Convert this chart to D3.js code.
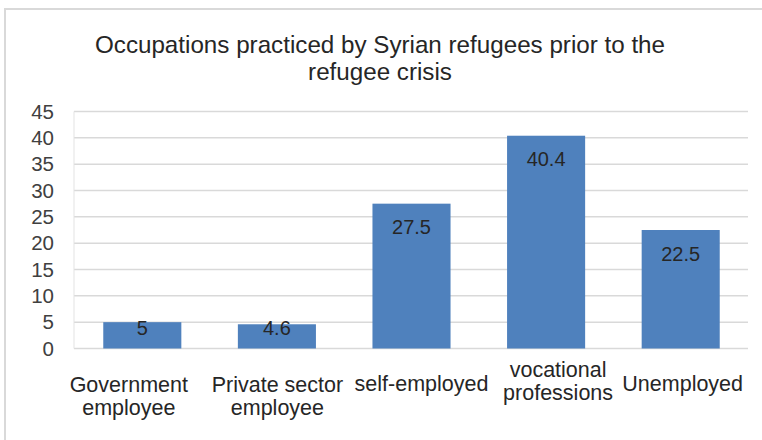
<!DOCTYPE html>
<html>
<head>
<meta charset="utf-8">
<script src="https://cdn.jsdelivr.net/npm/d3@7/dist/d3.min.js"></script>
<style>
  html, body { margin: 0; padding: 0; background: #fff; }
  svg { display: block; font-family: "Liberation Sans", Arial, sans-serif; }
</style>
</head>
<body>
<svg id="chart" width="762" height="440"></svg>
<script>
// ---- data ----
const categories = ["Government employee", "Private sector employee", "self-employed", "vocational professions", "Unemployed"];
const categoryLines = [["Government", "employee"], ["Private sector", "employee"], ["self-employed"], ["vocational", "professions"], ["Unemployed"]];
const values = [5, 4.6, 27.5, 40.4, 22.5];
const yTicks = [0, 5, 10, 15, 20, 25, 30, 35, 40, 45];
const titleLines = ["Occupations practiced by Syrian refugees prior to the", "refugee crisis"];

// ---- layout ----
const svg = d3.select("#chart");
const plot = { left: 75, right: 748, top: 111.5, bottom: 348.5 };
const labelShift = [[-13.5, 0], [0.5, 0], [10, -1], [12, -15], [2, -1]];

svg.append("rect")
  .attr("x", 5).attr("y", 9).attr("width", 800).attr("height", 500)
  .attr("fill", "none").attr("stroke", "#d9d9d9").attr("stroke-width", 2);

const x = d3.scaleBand().domain(categories).range([plot.left, plot.right]).paddingInner(0.42).paddingOuter(0.21);
const y = d3.scaleLinear().domain([0, 45]).range([plot.bottom, plot.top]);

// title
svg.append("text")
  .attr("x", 380).attr("y", 52.5)
  .attr("text-anchor", "middle")
  .attr("font-size", 24.2).attr("fill", "#262626")
  .selectAll("tspan").data(titleLines).join("tspan")
  .attr("x", 380).attr("dy", (d, i) => i === 0 ? 0 : 27)
  .text(d => d);

// gridlines
svg.append("g").selectAll("line").data(yTicks).join("line")
  .attr("x1", plot.left - 1).attr("x2", plot.right)
  .attr("y1", d => y(d)).attr("y2", d => y(d))
  .attr("stroke", "#d9d9d9").attr("stroke-width", 1.5);

svg.append("line")
  .attr("x1", plot.left - 1).attr("x2", plot.left - 1)
  .attr("y1", plot.top).attr("y2", plot.bottom)
  .attr("stroke", "#e3e3e3").attr("stroke-width", 1);

// y axis labels
const yAxis = d3.axisLeft(y).tickValues(yTicks).tickSize(0).tickPadding(21);
const gy = svg.append("g").attr("transform", `translate(${plot.left},0)`).call(yAxis);
gy.select(".domain").remove();
gy.selectAll("text").attr("font-size", 20.5).attr("fill", "#404040")
  .attr("font-family", "Liberation Sans, Arial, sans-serif");

// bars
svg.append("g").selectAll("rect").data(values).join("rect")
  .attr("x", (d, i) => x(categories[i]))
  .attr("width", x.bandwidth())
  .attr("y", d => y(d))
  .attr("height", d => y(0) - y(d))
  .attr("fill", "#4f81bd");

// data labels
svg.append("g").selectAll("text").data(values).join("text")
  .attr("x", (d, i) => x(categories[i]) + x.bandwidth() / 2)
  .attr("y", d => Math.min(y(d) + 30.5, plot.bottom - 13.5))
  .attr("text-anchor", "middle")
  .attr("font-size", 20).attr("fill", "#262626")
  .text(d => d);

// category labels
const gx = svg.append("g");
categoryLines.forEach((lines, i) => {
  const cx = x(categories[i]) + x.bandwidth() / 2 + labelShift[i][0];
  const t = gx.append("text")
    .attr("x", cx).attr("y", 392 + labelShift[i][1])
    .attr("text-anchor", "middle")
    .attr("font-size", 21.5).attr("fill", "#262626");
  t.selectAll("tspan").data(lines).join("tspan")
    .attr("x", cx).attr("dy", (d, j) => j === 0 ? 0 : 22.5)
    .text(d => d);
});
</script>
</body>
</html>
